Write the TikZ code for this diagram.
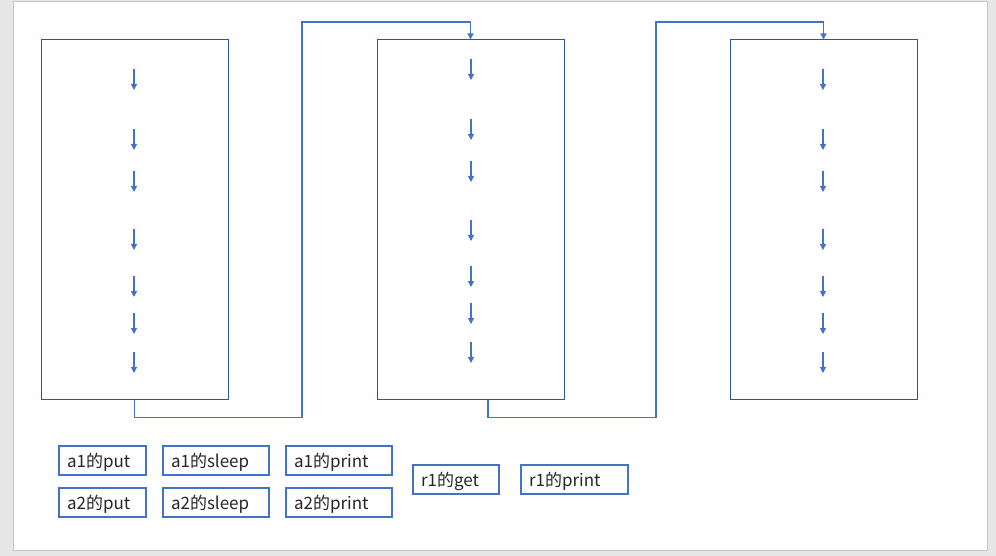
\documentclass[tikz,border=0pt]{standalone}
\usepackage{fontspec}
\setmainfont{Noto Sans CJK SC}
\usetikzlibrary{arrows.meta}
\definecolor{pagegray}{HTML}{E6E6E6}
\definecolor{edgegray}{HTML}{C6C6C6}
\definecolor{darkblue}{HTML}{2F5597}
\definecolor{midblue}{HTML}{4472C4}
\tikzset{
  lane/.style={draw=darkblue,line width=1pt,minimum width=187pt,minimum height=359pt,inner sep=0pt},
  smallarrow/.style={draw=midblue,line width=1.2pt,-{Triangle[width=6pt,length=6pt]}},
  link/.style={draw=midblue,line width=1.3pt,-{Triangle[width=6pt,length=6pt]}},
  tag/.style={draw=midblue,line width=2pt,minimum height=29pt,inner xsep=8pt,inner ysep=0pt,anchor=north west,text depth=0pt,align=left,font=\fontsize{17}{19}\selectfont,text=black!85}
}
\begin{document}
\begin{tikzpicture}[x=1pt,y=-1pt]
\useasboundingbox (0,0) rectangle (996,556);
\fill[pagegray] (0,0) rectangle (996,556);
\fill[white,draw=edgegray,line width=1pt] (13,1.5) rectangle (987,550);
% lanes
\node[lane] (L1) at (134.5,219.5) {};
\node[lane] (L2) at (470.5,219.5) {};
\node[lane] (L3) at (823.5,219.5) {};
% arrows in lanes
\foreach \y [count=\i] in {69,129,171,229,276,313,352}{
  \coordinate (a1s\i) at (134,\y); \coordinate (a1e\i) at (134,\y+21);
  \draw[smallarrow] (a1s\i) -- (a1e\i);
  \coordinate (a3s\i) at (823,\y); \coordinate (a3e\i) at (823,\y+21);
  \draw[smallarrow] (a3s\i) -- (a3e\i);
}
\foreach \y [count=\i] in {59,119,161,220,266,303,342}{
  \coordinate (a2s\i) at (471,\y); \coordinate (a2e\i) at (471,\y+21);
  \draw[smallarrow] (a2s\i) -- (a2e\i);
}
% connectors
\draw[link] (L1.south) -- ++(0,18) -| (302,22) -| (L2.north);
\coordinate (L2out) at (488,399.5);
\draw[link] (L2out) -- ++(0,18) -| (656,22) -| (L3.north);
% tags
\node[tag,text width=71pt] (t1) at (58,445) {a1的put};
\node[tag,text width=90pt] (t2) at (162,445) {a1的sleep};
\node[tag,text width=90pt] (t3) at (285,445) {a1的print};
\node[tag,text width=71pt] (t4) at (58,487) {a2的put};
\node[tag,text width=90pt] (t5) at (162,487) {a2的sleep};
\node[tag,text width=90pt] (t6) at (285,487) {a2的print};
\node[tag,text width=70pt] (t7) at (412,464) {r1的get};
\node[tag,text width=91pt] (t8) at (520,464) {r1的print};
\end{tikzpicture}
\end{document}
